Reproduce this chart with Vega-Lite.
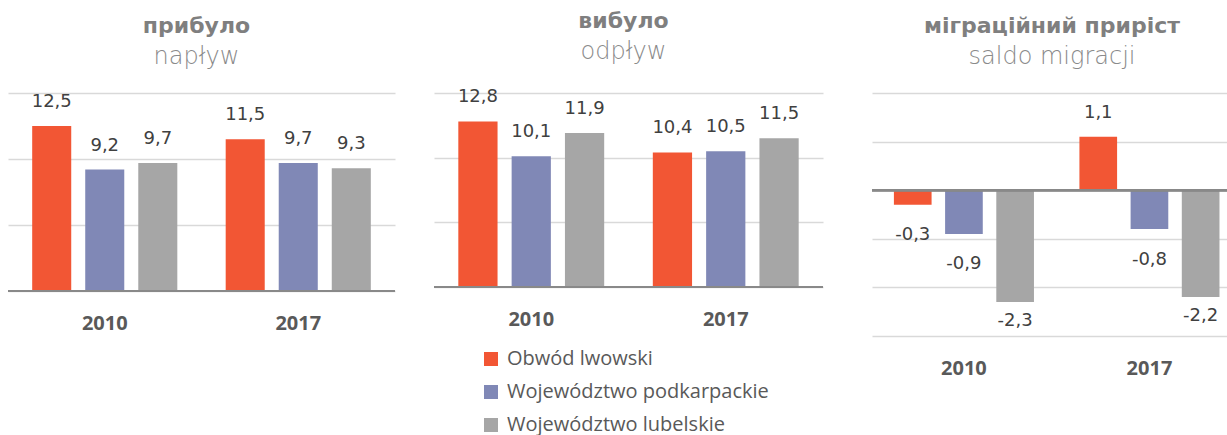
{
  "$schema": "https://vega.github.io/schema/vega-lite/v6.json",
  "background": "white",
  "padding": {"left": 7, "top": 10, "right": 0, "bottom": 0},
  "config": {
    "view": {"stroke": null},
    "axisX": {"labelFont": "Open Sans", "labelFontSize": 20, "labelFontWeight": "bold", "labelColor": "#595959", "ticks": false, "domain": false, "labelPadding": 22, "labelAngle": 0, "grid": false},
    "axisY": {"labels": false, "ticks": false, "domain": false, "gridColor": "#d9d9d9", "gridWidth": 1.5},
    "title": {"font": "DejaVu Sans", "fontSize": 22, "fontWeight": "bold", "color": "#7f7f7f", "subtitleFont": "DejaVu Sans", "subtitleFontSize": 24, "subtitleFontWeight": 200, "subtitleColor": "#8a8a8a", "subtitlePadding": 7, "offset": 23, "anchor": "middle", "frame": "group", "baseline": "top"}
  },
  "datasets": {
    "naplyw": [
      {"year": "2010", "region": "Obwód lwowski", "v": 12.5, "t": "12,5"},
      {"year": "2010", "region": "Województwo podkarpackie", "v": 9.2, "t": "9,2"},
      {"year": "2010", "region": "Województwo lubelskie", "v": 9.7, "t": "9,7"},
      {"year": "2017", "region": "Obwód lwowski", "v": 11.5, "t": "11,5"},
      {"year": "2017", "region": "Województwo podkarpackie", "v": 9.7, "t": "9,7"},
      {"year": "2017", "region": "Województwo lubelskie", "v": 9.3, "t": "9,3"}
    ],
    "odplyw": [
      {"year": "2010", "region": "Obwód lwowski", "v": 12.8, "t": "12,8"},
      {"year": "2010", "region": "Województwo podkarpackie", "v": 10.1, "t": "10,1"},
      {"year": "2010", "region": "Województwo lubelskie", "v": 11.9, "t": "11,9"},
      {"year": "2017", "region": "Obwód lwowski", "v": 10.4, "t": "10,4"},
      {"year": "2017", "region": "Województwo podkarpackie", "v": 10.5, "t": "10,5"},
      {"year": "2017", "region": "Województwo lubelskie", "v": 11.5, "t": "11,5"}
    ],
    "saldo": [
      {"year": "2010", "region": "Obwód lwowski", "v": -0.3, "t": "-0,3"},
      {"year": "2010", "region": "Województwo podkarpackie", "v": -0.9, "t": "-0,9"},
      {"year": "2010", "region": "Województwo lubelskie", "v": -2.3, "t": "-2,3"},
      {"year": "2017", "region": "Obwód lwowski", "v": 1.1, "t": "1,1"},
      {"year": "2017", "region": "Województwo podkarpackie", "v": -0.8, "t": "-0,8"},
      {"year": "2017", "region": "Województwo lubelskie", "v": -2.2, "t": "-2,2"}
    ]
  },
  "spacing": 47,
  "resolve": {"scale": {"x": "independent", "y": "independent", "color": "independent", "xOffset": "independent"}, "legend": {"color": "independent"}, "axis": {"x": "independent", "y": "independent"}},
  "hconcat": [
    {
      "spacing": 37,
      "resolve": {"scale": {"x": "independent", "y": "independent", "color": "independent", "xOffset": "independent"}, "legend": {"color": "independent"}, "axis": {"x": "independent", "y": "independent"}},
      "hconcat": [
        {
          "width": 387, "height": 198,
          "title": {"text": "прибуло", "subtitle": "napływ", "dx": -5},
          "data": {"name": "naplyw"},
          "layer": [
            {
              "mark": {"type": "bar"},
              "encoding": {
                "x": {"field": "year", "type": "nominal", "title": null, "scale": {"paddingInner": 0.25, "paddingOuter": 0.125}},
                "xOffset": {"field": "region", "type": "nominal", "scale": {"domain": ["Obwód lwowski", "Województwo podkarpackie", "Województwo lubelskie"], "paddingInner": 0.264, "paddingOuter": 0}},
                "y": {"field": "v", "type": "quantitative", "title": null, "scale": {"domain": [0, 15], "nice": false}, "axis": {"values": [0, 5, 10, 15]}},
                "color": {"field": "region", "type": "nominal", "scale": {"domain": ["Obwód lwowski", "Województwo podkarpackie", "Województwo lubelskie"], "range": ["#F25634", "#8088B6", "#A6A6A6"]}, "legend": null}
              }
            },
            {
              "mark": {"type": "rule", "color": "#898989", "strokeWidth": 2},
              "encoding": {"y": {"datum": 0, "type": "quantitative", "title": null}}
            },
            {
              "mark": {"type": "text", "font": "DejaVu Sans", "fontSize": 18, "color": "#404040", "baseline": "alphabetic", "dy": -19},
              "encoding": {
                "x": {"field": "year", "type": "nominal", "title": null},
                "xOffset": {"field": "region", "type": "nominal"},
                "y": {"field": "v", "type": "quantitative", "title": null},
                "text": {"field": "t"}
              }
            }
          ]
        },
        {
          "width": 389, "height": 194,
          "title": {"text": "вибуло", "subtitle": "odpływ", "dx": -5},
          "data": {"name": "odplyw"},
          "layer": [
            {
              "mark": {"type": "bar"},
              "encoding": {
                "x": {"field": "year", "type": "nominal", "title": null, "scale": {"paddingInner": 0.25, "paddingOuter": 0.125}},
                "xOffset": {"field": "region", "type": "nominal", "scale": {"domain": ["Obwód lwowski", "Województwo podkarpackie", "Województwo lubelskie"], "paddingInner": 0.264, "paddingOuter": 0}},
                "y": {"field": "v", "type": "quantitative", "title": null, "scale": {"domain": [0, 15], "nice": false}, "axis": {"values": [0, 5, 10, 15]}},
                "color": {"field": "region", "type": "nominal", "scale": {"domain": ["Obwód lwowski", "Województwo podkarpackie", "Województwo lubelskie"], "range": ["#F25634", "#8088B6", "#A6A6A6"]},
                  "legend": {"orient": "none", "legendX": 47, "legendY": 256, "title": null, "direction": "vertical", "symbolType": "square", "symbolSize": 196, "symbolStrokeWidth": 0, "labelFont": "Open Sans", "labelFontSize": 20, "labelColor": "#595959", "rowPadding": 13, "labelOffset": 6, "padding": 0, "labelLimit": 400}}
              }
            },
            {
              "mark": {"type": "rule", "color": "#898989", "strokeWidth": 2},
              "encoding": {"y": {"datum": 0, "type": "quantitative", "title": null}}
            },
            {
              "mark": {"type": "text", "font": "DejaVu Sans", "fontSize": 18, "color": "#404040", "baseline": "alphabetic", "dy": -19},
              "encoding": {
                "x": {"field": "year", "type": "nominal", "title": null},
                "xOffset": {"field": "region", "type": "nominal"},
                "y": {"field": "v", "type": "quantitative", "title": null},
                "text": {"field": "t"}
              }
            }
          ]
        }
      ]
    },
    {
      "width": 356, "height": 243,
      "title": {"text": "міграційний приріст", "subtitle": "saldo migracji", "dx": 2},
      "data": {"name": "saldo"},
      "layer": [
        {
          "mark": {"type": "bar"},
          "encoding": {
            "x": {"field": "year", "type": "nominal", "title": null, "scale": {"paddingInner": 0.245, "paddingOuter": 0.082, "align": 0.72}},
            "xOffset": {"field": "region", "type": "nominal", "scale": {"domain": ["Obwód lwowski", "Województwo podkarpackie", "Województwo lubelskie"], "paddingInner": 0.264, "paddingOuter": 0}},
            "y": {"field": "v", "type": "quantitative", "title": null, "scale": {"domain": [-3, 2], "nice": false}, "axis": {"values": [-3, -2, -1, 0, 1, 2]}},
            "color": {"field": "region", "type": "nominal", "scale": {"domain": ["Obwód lwowski", "Województwo podkarpackie", "Województwo lubelskie"], "range": ["#F25634", "#8088B6", "#A6A6A6"]}, "legend": null}
          }
        },
        {
          "mark": {"type": "rule", "color": "#898989", "strokeWidth": 2},
          "encoding": {"y": {"datum": 0, "type": "quantitative", "title": null}}
        },
        {
          "transform": [{"filter": "datum.v >= 0"}],
          "mark": {"type": "text", "font": "DejaVu Sans", "fontSize": 18, "color": "#404040", "baseline": "alphabetic", "dy": -19},
          "encoding": {
            "x": {"field": "year", "type": "nominal", "title": null},
            "xOffset": {"field": "region", "type": "nominal"},
            "y": {"field": "v", "type": "quantitative", "title": null},
            "text": {"field": "t"}
          }
        },
        {
          "transform": [{"filter": "datum.v < 0 && datum.v > -1.5"}],
          "mark": {"type": "text", "font": "DejaVu Sans", "fontSize": 18, "color": "#404040", "baseline": "alphabetic", "dy": 35.5},
          "encoding": {
            "x": {"field": "year", "type": "nominal", "title": null},
            "xOffset": {"field": "region", "type": "nominal"},
            "y": {"field": "v", "type": "quantitative", "title": null},
            "text": {"field": "t"}
          }
        },
        {
          "transform": [{"filter": "datum.v <= -1.5"}],
          "mark": {"type": "text", "font": "DejaVu Sans", "fontSize": 18, "color": "#404040", "baseline": "alphabetic", "dy": 24},
          "encoding": {
            "x": {"field": "year", "type": "nominal", "title": null},
            "xOffset": {"field": "region", "type": "nominal"},
            "y": {"field": "v", "type": "quantitative", "title": null},
            "text": {"field": "t"}
          }
        }
      ]
    }
  ]
}
